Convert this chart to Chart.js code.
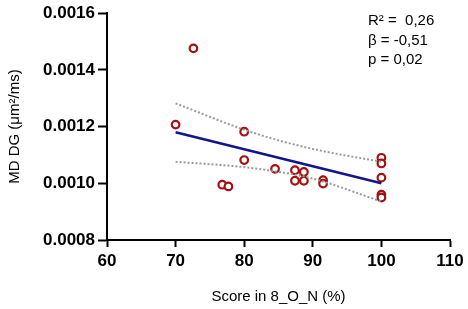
<!DOCTYPE html>
<html>
<head>
<meta charset="utf-8">
<script src="https://cdn.jsdelivr.net/npm/chart.js@4/dist/chart.umd.min.js"></script>
<style>
  html, body { margin: 0; padding: 0; background: #fff; }
  #wrap { width: 468px; height: 309px; }
</style>
</head>
<body>
<div id="wrap"><canvas id="scoreChart" width="468" height="309"></canvas></div>
<script>
// Scores (x) and MD DG values (y)
const scores = [72.6, 70, 80, 80, 84.5, 87.4, 88.7, 87.4, 88.7, 76.8, 77.7, 91.5, 91.5, 100, 100, 100, 100, 100];
const mdValues = [0.001476, 0.001207, 0.001182, 0.001082, 0.001051, 0.001046, 0.00104, 0.001009, 0.001009, 0.000995, 0.000989, 0.001011, 0.000999, 0.00109, 0.00107, 0.00102, 0.00096, 0.00095];

// Fitted line and 95% band, read at a few x positions
const fitX = [70, 100];
const fitY = [0.00118, 0.0010];
const upperX = [70, 80, 86, 92, 100];
const upperY = [0.001282, 0.001189, 0.001145, 0.001111, 0.001076];
const lowerX = [70, 80, 84, 89.5, 100];
const lowerY = [0.001076, 0.001057, 0.001044, 0.00102, 0.000936];

const xTicks = [60, 70, 80, 90, 100, 110];
const yTicks = [0.0008, 0.0010, 0.0012, 0.0014, 0.0016];

const statsLines = ['R\u00b2 =  0,26', '\u03b2 = -0,51', 'p = 0,02'];

const toPoints = (xs, ys) => xs.map((x, i) => ({ x: x, y: ys[i] }));

// draws the R2 / beta / p block in the top right corner
const statsText = {
    id: 'statsText',
    afterDraw(chart) {
        const ctx = chart.ctx;
        ctx.save();
        ctx.font = '15px "Liberation Sans", Arial, sans-serif';
        ctx.fillStyle = '#000';
        ctx.textAlign = 'left';
        ctx.textBaseline = 'middle';
        const rows = [21, 41, 60];
        statsLines.forEach((line, i) => ctx.fillText(line, 368, rows[i]));
        ctx.restore();
    }
};

const tickFont = { family: '"Liberation Sans", Arial, sans-serif', size: 17, weight: 'bold' };
const titleFont = { family: '"Liberation Sans", Arial, sans-serif', size: 15, weight: 'normal' };

const bandStyle = {
    type: 'line',
    borderColor: '#9a9a9a',
    borderWidth: 2,
    borderDash: [2, 2],
    pointRadius: 0,
    cubicInterpolationMode: 'monotone',
    fill: false
};

new Chart(document.getElementById('scoreChart'), {
    type: 'scatter',
    data: {
        datasets: [
            Object.assign({ data: toPoints(upperX, upperY) }, bandStyle),
            Object.assign({ data: toPoints(lowerX, lowerY) }, bandStyle),
            {
                type: 'line',
                data: toPoints(fitX, fitY),
                borderColor: '#14148c',
                borderWidth: 2.5,
                pointRadius: 0,
                fill: false
            },
            {
                data: toPoints(scores, mdValues),
                pointRadius: 3.8,
                pointBorderWidth: 2.2,
                borderColor: '#a3100f',
                backgroundColor: '#ffffff'
            }
        ]
    },
    options: {
        responsive: false,
        animation: false,
        layout: { padding: { top: 10, right: 18, left: 0, bottom: 0 } },
        plugins: { legend: { display: false }, tooltip: { enabled: false } },
        scales: {
            x: {
                type: 'linear',
                min: 60,
                max: 110,
                afterFit: (scale) => { scale.height = 69; },
                afterBuildTicks: (scale) => { scale.ticks = xTicks.map(v => ({ value: v })); },
                grid: { display: true, drawOnChartArea: false, tickLength: 7, tickWidth: 2, color: '#000' },
                border: { display: true, color: '#000', width: 2 },
                ticks: { color: '#000', font: tickFont, padding: 4 },
                title: { display: true, text: 'Score in 8_O_N (%)', color: '#000', font: titleFont, padding: { top: 0, bottom: 3 } }
            },
            y: {
                type: 'linear',
                min: 0.0008,
                max: 0.0016,
                afterFit: (scale) => { scale.width = 107; },
                afterBuildTicks: (scale) => { scale.ticks = yTicks.map(v => ({ value: v })); },
                grid: { display: true, drawOnChartArea: false, tickLength: 9, tickWidth: 2, color: '#000' },
                border: { display: true, color: '#000', width: 2 },
                ticks: { color: '#000', font: tickFont, padding: 3, callback: (v) => v.toFixed(4) },
                title: { display: true, text: 'MD DG (\u03bcm\u00b2/ms)', color: '#000', font: titleFont, padding: { top: 6, bottom: 0 } }
            }
        }
    },
    plugins: [statsText]
});
</script>
</body>
</html>
